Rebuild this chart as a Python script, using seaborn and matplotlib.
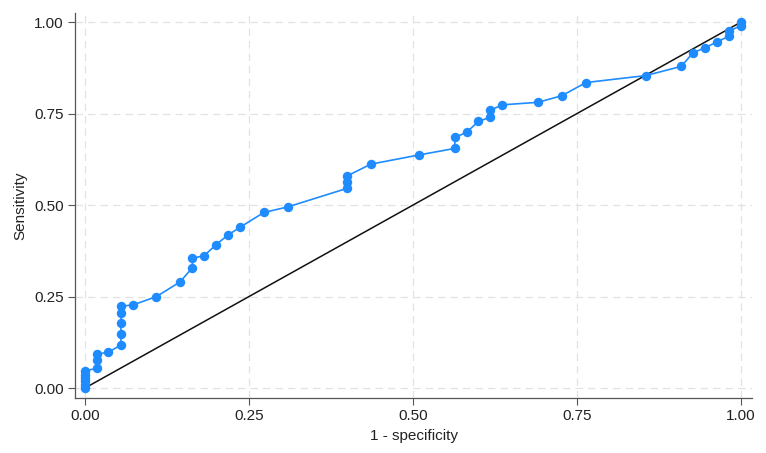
import matplotlib
matplotlib.use("Agg")
import matplotlib.pyplot as plt
import seaborn as sns
import pandas as pd

# ROC curve points (1 - specificity, sensitivity)
fpr = [0.0, 0.0, 0.0, 0.0, 0.0, 0.0, 0.018, 0.018, 0.018, 0.036,
       0.055, 0.055, 0.055, 0.055, 0.055, 0.073, 0.109, 0.145, 0.164, 0.164,
       0.182, 0.200, 0.218, 0.236, 0.273, 0.309, 0.400, 0.400, 0.400, 0.436,
       0.509, 0.564, 0.564, 0.582, 0.600, 0.618, 0.618, 0.636, 0.691, 0.727,
       0.764, 0.855, 0.909, 0.927, 0.945, 0.964, 0.982, 0.982, 1.0, 1.0]
tpr = [0.0, 0.009, 0.019, 0.028, 0.037, 0.047, 0.054, 0.076, 0.093, 0.098,
       0.118, 0.147, 0.178, 0.204, 0.224, 0.227, 0.250, 0.290, 0.329, 0.355,
       0.362, 0.392, 0.418, 0.439, 0.480, 0.495, 0.546, 0.564, 0.580, 0.612,
       0.637, 0.655, 0.685, 0.699, 0.729, 0.740, 0.759, 0.774, 0.781, 0.799,
       0.835, 0.854, 0.879, 0.916, 0.930, 0.946, 0.962, 0.976, 0.990, 1.0]
ticks = [0.0, 0.25, 0.5, 0.75, 1.0]
tick_labels = ["0.00", "0.25", "0.50", "0.75", "1.00"]

df = pd.DataFrame({"fpr": fpr, "tpr": tpr})

sns.set_style("white")
plt.rcParams["font.family"] = ["Liberation Sans", "DejaVu Sans"]

fig = plt.figure(figsize=(7.66, 4.53), dpi=100)
ax = fig.add_axes([75 / 766, 55 / 453, 677 / 766, 385 / 453])

# reference diagonal
ax.plot([0, 1], [0, 1], color="#111111", lw=1.1, zorder=2)

sns.lineplot(data=df, x="fpr", y="tpr", sort=False, estimator=None,
             color="#1E8CFF", lw=1.2, marker="o", markersize=6.8,
             markeredgewidth=0, ax=ax, zorder=3)

ax.set_xlim(-0.015, 1.017)
ax.set_ylim(-0.027, 1.025)
ax.set_xticks(ticks)
ax.set_xticklabels(tick_labels)
ax.set_yticks(ticks)
ax.set_yticklabels(tick_labels)
ax.grid(True, color="#e2e2e2", linestyle=(0, (6, 4)), lw=0.9)
ax.tick_params(axis="both", which="both", direction="out", length=5,
               width=0.8, color="#555555", labelsize=11,
               labelcolor="#222222", bottom=True, left=True, pad=3)
ax.set_xlabel("1 - specificity", fontsize=11, color="#222222", labelpad=4)
ax.set_ylabel("Sensitivity", fontsize=11, color="#222222", labelpad=5)

for side in ["top", "right"]:
    ax.spines[side].set_visible(False)
for side in ["left", "bottom"]:
    ax.spines[side].set_color("#555555")
    ax.spines[side].set_linewidth(0.9)

fig.savefig("out.png", dpi=100)
